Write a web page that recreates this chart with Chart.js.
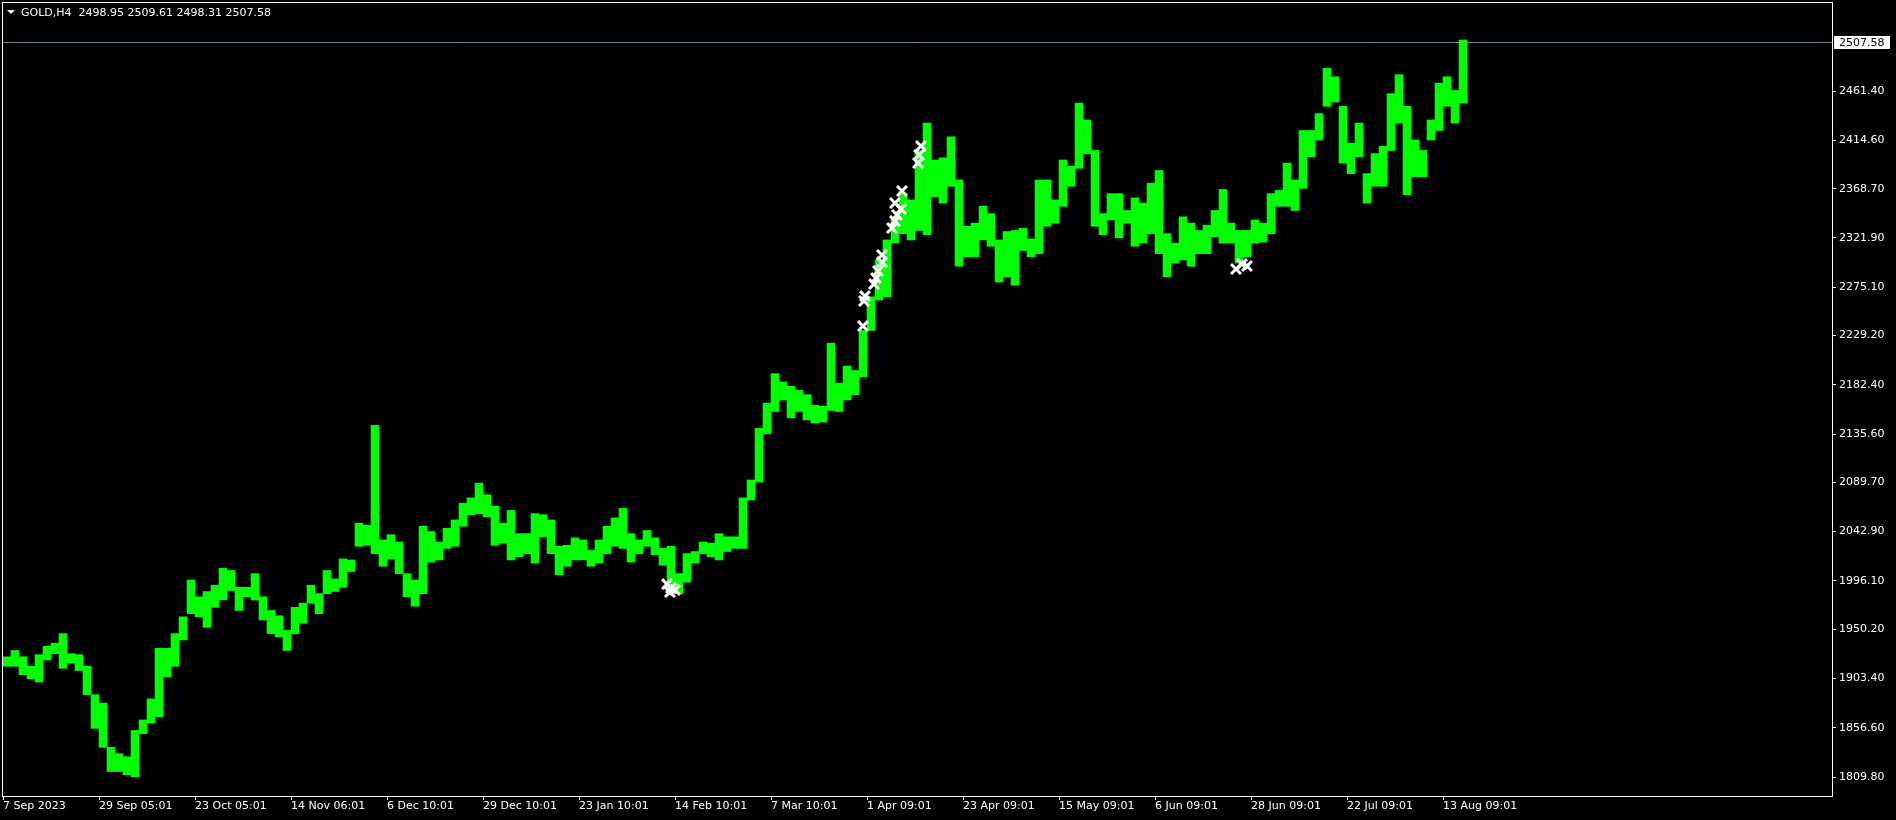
<!DOCTYPE html>
<html>
<head>
<meta charset="utf-8">
<title>GOLD,H4</title>
<script src="https://cdn.jsdelivr.net/npm/chart.js"></script>
<style>
  html, body { margin: 0; padding: 0; background: #000; overflow: hidden; }
  #wrap { width: 1896px; height: 820px; }
</style>
</head>
<body>
<div id="wrap"><canvas id="goldChart"></canvas></div>
<script>
const symbol = 'GOLD,H4';
const lastBar = [2498.95, 2509.61, 2498.31, 2507.58]; // open high low close

const timeLabels = ['7 Sep 2023', '29 Sep 05:01', '23 Oct 05:01', '14 Nov 06:01', '6 Dec 10:01',
  '29 Dec 10:01', '23 Jan 10:01', '14 Feb 10:01', '7 Mar 10:01', '1 Apr 09:01', '23 Apr 09:01',
  '15 May 09:01', '6 Jun 09:01', '28 Jun 09:01', '22 Jul 09:01', '13 Aug 09:01'];

const priceTicks = [2461.40, 2414.60, 2368.70, 2321.90, 2275.10, 2229.20, 2182.40, 2135.60,
  2089.70, 2042.90, 1996.10, 1950.20, 1903.40, 1856.60, 1809.80];

// low / high of each group of 8 H4 bars
const lows = [
  1915, 1915, 1907, 1903, 1900, 1921, 1927, 1913, 1918, 1911,
  1888, 1856, 1838, 1815, 1815, 1812, 1810, 1851, 1861, 1867,
  1905, 1915, 1940, 1965, 1962, 1952, 1971, 1978, 1987, 1968,
  1981, 1978, 1959, 1946, 1943, 1930, 1946, 1956, 1975, 1965,
  1984, 1986, 1990, 2005, 2029, 2030, 2022, 2010, 2017, 2003,
  1981, 1972, 1984, 2014, 2016, 2027, 2029, 2048, 2059, 2060,
  2057, 2030, 2032, 2016, 2019, 2022, 2013, 2038, 2022, 2002,
  2010, 2016, 2016, 2010, 2013, 2022, 2029, 2027, 2014, 2022,
  2029, 2021, 2011, 1990, 1984, 1995, 2013, 2022, 2019, 2016,
  2024, 2027, 2027, 2073, 2090, 2136, 2157, 2168, 2151, 2157,
  2149, 2146, 2147, 2158, 2157, 2168, 2173, 2190, 2234, 2263,
  2266, 2317, 2326, 2320, 2329, 2325, 2361, 2355, 2371, 2295,
  2304, 2304, 2320, 2314, 2280, 2285, 2277, 2310, 2304, 2307,
  2333, 2336, 2352, 2371, 2388, 2402, 2333, 2325, 2339, 2322,
  2336, 2314, 2317, 2326, 2307, 2285, 2298, 2301, 2295, 2307,
  2307, 2323, 2317, 2317, 2298, 2304, 2317, 2318, 2326, 2352,
  2352, 2348, 2369, 2399, 2415, 2447, 2451, 2393, 2383, 2399,
  2355, 2371, 2371, 2405, 2431, 2363, 2380, 2380, 2415, 2424,
  2447, 2431, 2450
];
const highs = [
  1924, 1930, 1924, 1915, 1926, 1934, 1937, 1946, 1927, 1926,
  1915, 1888, 1880, 1838, 1832, 1829, 1854, 1864, 1884, 1932,
  1932, 1946, 1962, 1997, 1981, 1986, 1992, 2008, 2006, 1990,
  1990, 2003, 1981, 1968, 1963, 1949, 1971, 1975, 1992, 1984,
  2006, 1998, 2017, 2016, 2051, 2049, 2144, 2035, 2040, 2033,
  2003, 1997, 2048, 2043, 2033, 2046, 2054, 2070, 2075, 2089,
  2078, 2067, 2051, 2063, 2041, 2041, 2060, 2059, 2054, 2029,
  2030, 2037, 2035, 2025, 2035, 2048, 2056, 2065, 2041, 2035,
  2044, 2037, 2027, 2029, 2003, 2022, 2024, 2033, 2032, 2041,
  2038, 2038, 2075, 2092, 2141, 2165, 2193, 2185, 2181, 2177,
  2173, 2163, 2162, 2222, 2184, 2200, 2196, 2234, 2266, 2301,
  2320, 2342, 2364, 2358, 2405, 2431, 2396, 2398, 2418, 2377,
  2333, 2336, 2352, 2345, 2320, 2328, 2329, 2331, 2321, 2377,
  2377, 2358, 2396, 2390, 2450, 2434, 2405, 2345, 2364, 2364,
  2348, 2360, 2355, 2374, 2386, 2326, 2317, 2342, 2336, 2329,
  2334, 2348, 2368, 2336, 2329, 2329, 2339, 2336, 2364, 2367,
  2393, 2377, 2424, 2424, 2440, 2483, 2475, 2447, 2412, 2431,
  2383, 2402, 2409, 2459, 2477, 2447, 2415, 2405, 2434, 2469,
  2475, 2462, 2510
];

// white cross marks: bar number and price
const crossBars = [918, 916, 915, 899, 892, 898, 894, 892, 889, 879, 879, 875,
  873, 871, 862, 861, 860, 664, 668, 672, 667, 1233, 1239, 1244];
const crossPrices = [2409.2, 2400.7, 2393.1, 2366.5, 2355.1, 2349.4, 2343.7, 2338.0,
  2331.3, 2305.7, 2299.0, 2290.5, 2283.8, 2278.1, 2266.7, 2262.0, 2238.2,
  1993.1, 1989.3, 1987.4, 1985.5, 2292.4, 2297.1, 2295.2];

const barsPerSlot = 8;
const barsOnScreen = 1829;
const ticksEvery = 96;

const rangeData = lows.map((lo, i) => ({ x: i * barsPerSlot + barsPerSlot / 2, y: [lo, highs[i]] }));
const crossData = crossBars.map((b, i) => ({ x: b, y: crossPrices[i] }));

Chart.defaults.font.family = 'DejaVu Sans';
Chart.defaults.font.size = 11;
Chart.defaults.color = '#ffffff';

// no extra room for the first / last tick labels
function noPadding(scale) {
  scale.paddingTop = 0;
  scale.paddingBottom = 0;
  scale.paddingLeft = 0;
  scale.paddingRight = 0;
}

// frame, title, last price line
const terminalLook = {
  id: 'terminalLook',
  beforeDatasetsDraw(chart) {
    const { ctx, chartArea: a } = chart;
    const y = Math.round(chart.scales.y.getPixelForValue(lastBar[3])) + 0.5;
    ctx.save();
    ctx.strokeStyle = '#778899';
    ctx.lineWidth = 1;
    ctx.beginPath();
    ctx.moveTo(a.left, y);
    ctx.lineTo(a.right, y);
    ctx.stroke();
    ctx.restore();
  },
  afterDraw(chart) {
    const { ctx, chartArea: a } = chart;
    ctx.save();
    ctx.strokeStyle = '#ffffff';
    ctx.lineWidth = 1;
    ctx.strokeRect(a.left - 0.5, a.top - 0.5, a.right - a.left + 1, a.bottom - a.top + 1);

    // title
    ctx.fillStyle = '#ffffff';
    ctx.beginPath();
    ctx.moveTo(7, 10);
    ctx.lineTo(15, 10);
    ctx.lineTo(11, 14);
    ctx.closePath();
    ctx.fill();
    ctx.font = '11px "DejaVu Sans"';
    ctx.textBaseline = 'middle';
    ctx.textAlign = 'left';
    ctx.fillText(symbol + '  ' + lastBar.map(v => v.toFixed(2)).join(' '), 21, 13);

    // last price box
    const y = Math.round(chart.scales.y.getPixelForValue(lastBar[3]));
    ctx.fillRect(a.right + 2, y - 6, 56, 13);
    ctx.fillStyle = '#000000';
    ctx.fillText(lastBar[3].toFixed(2), a.right + 7, y + 1);
    ctx.restore();
  }
};

const ctx = document.getElementById('goldChart').getContext('2d');
new Chart(ctx, {
  type: 'bar',
  data: {
    datasets: [
      {
        type: 'scatter',
        data: crossData,
        pointStyle: 'crossRot',
        radius: 7,
        borderWidth: 3,
        borderColor: '#ffffff',
        backgroundColor: '#ffffff',
        order: 0
      },
      {
        data: rangeData,
        backgroundColor: '#00ff00',
        borderWidth: 0,
        barPercentage: 1,
        categoryPercentage: 1,
        order: 1
      }
    ]
  },
  options: {
    responsive: true,
    maintainAspectRatio: false,
    animation: false,
    devicePixelRatio: 1,
    layout: { autoPadding: false, padding: { left: 3, top: 3, right: 0, bottom: 0 } },
    plugins: { legend: { display: false }, tooltip: { enabled: false } },
    scales: {
      x: {
        type: 'linear',
        offset: false,
        min: 0,
        max: barsOnScreen,
        border: { display: false },
        grid: { drawOnChartArea: false, drawTicks: true, tickLength: 4, color: '#ffffff', offset: false },
        ticks: {
          autoSkip: false,
          maxRotation: 0,
          align: 'start',
          padding: 0,
          color: '#ffffff',
          callback: (v, i) => timeLabels[i]
        },
        afterBuildTicks: scale => {
          scale.ticks = timeLabels.map((t, i) => ({ value: i * ticksEvery }));
        },
        afterFit: scale => { scale.height = 24; noPadding(scale); }
      },
      y: {
        position: 'right',
        min: 1791.75,
        max: 2545.1,
        border: { display: false },
        grid: { drawOnChartArea: false, drawTicks: true, tickLength: 4, color: '#ffffff' },
        ticks: {
          autoSkip: false,
          padding: 3,
          color: '#ffffff',
          callback: v => Number(v).toFixed(2)
        },
        afterBuildTicks: scale => {
          scale.ticks = priceTicks.map(v => ({ value: v }));
        },
        afterFit: scale => { scale.width = 64; noPadding(scale); }
      }
    }
  },
  plugins: [terminalLook]
});
</script>
</body>
</html>
